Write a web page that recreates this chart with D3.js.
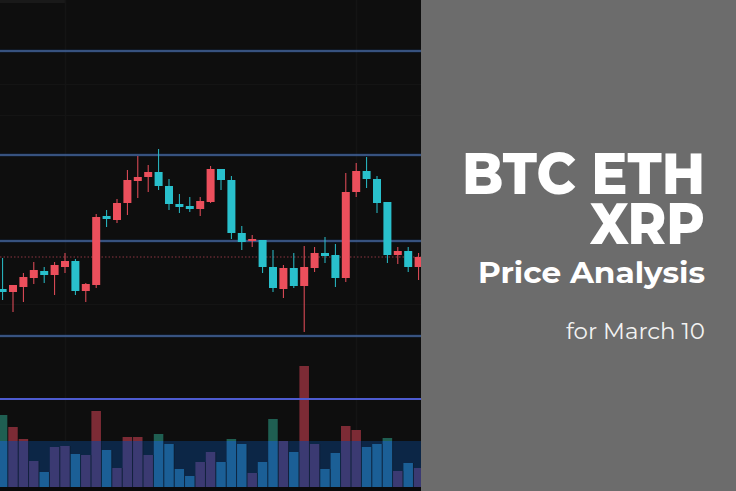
<!DOCTYPE html>
<html>
<head>
<meta charset="utf-8">
<script src="https://cdn.jsdelivr.net/npm/d3@7"></script>
<style>
  html, body { margin: 0; padding: 0; background: #0e0e0e; }
  svg { display: block; }
</style>
</head>
<body>
<svg id="chart" width="736" height="491"></svg>
<script>
// ---- data (price units) ----
const candleIndex = d3.range(41);
const opens  = [311,308,313,322,329,325,333,339,309,315,384,380,397,419,423,428,414,396,394,391,398,431,420,367,359,360,333,311,332,314,332,347,345,322,408,429,421,398,345,349,333];
const highs  = [342,315,327,338,333,338,347,341,317,386,390,401,430,444,435,451,421,406,403,403,434,431,424,374,365,360,350,335,347,354,353,363,356,427,437,443,424,398,353,353,347];
const lows   = [300,288,298,316,317,305,327,305,298,312,373,377,385,402,408,410,390,387,388,384,397,410,361,350,353,327,308,302,312,268,328,337,313,318,403,412,387,337,336,328,320];
const closes = [308,315,323,330,325,335,339,309,316,383,381,397,420,423,428,414,396,393,391,399,431,420,367,358,361,333,312,332,314,333,347,344,322,408,429,421,397,345,349,333,343];
const volumes = [72,60,48,26,15,40,41,33,32,76,37,19,50,50,32,53,43,18,11,25,35,25,48,43,14,25,68,46,35,121,43,18,34,61,57,40,43,49,16,24,19];
const volumeBand = 46;              // level of the shaded volume band
const levelLines = [549,445,359,264]; // horizontal support / resistance levels
const paneDivider = [201];
const gridLevels = [516,485,296,264];
const gridIndices = [6,34];
const lastPrice = closes[closes.length-1];
const titleLines = ["BTC ETH","XRP"];
const subtitle = "Price Analysis";
const dateLine = "for March 10";

// ---- layout ----
const W = 736, H = 491, chartRight = 421;
const svg = d3.select("#chart");

const x = d3.scaleLinear().domain([0, 40]).range([2.6, 418.6]);
const y = d3.scaleLinear().domain([109, 600]).range([491, 0]);
const yv = d3.scaleLinear().domain([0, 487]).range([487, 0]);

const upCol = "#ec4f5c", downCol = "#29c0cc";
const volUp = "#7c2b35", volDown = "#1f5f52";
const volUpBand = "#3b3a72", volDownBand = "#1b5f96";

const defs = svg.append("defs");
defs.append("clipPath").attr("id","plot").append("rect").attr("x",0).attr("y",0).attr("width",chartRight).attr("height",H);
defs.append("clipPath").attr("id","band").append("rect").attr("x",0).attr("y",yv(volumeBand)).attr("width",chartRight).attr("height",yv(0)-yv(volumeBand));

const g = svg.append("g").attr("clip-path","url(#plot)");
g.append("rect").attr("width",chartRight).attr("height",H).attr("fill","#0e0e0e");
g.append("rect").attr("x",0).attr("y",0).attr("width",66).attr("height",3).attr("fill","#191919");

// faint grid
g.selectAll(".gh").data(gridLevels).join("line")
  .attr("x1",0).attr("x2",chartRight).attr("y1",d=>Math.round(y(d))+0.5).attr("y2",d=>Math.round(y(d))+0.5)
  .attr("stroke","#141414").attr("stroke-width",1);
g.selectAll(".gv").data(gridIndices).join("line")
  .attr("y1",0).attr("y2",H).attr("x1",d=>Math.round(x(d))+0.5).attr("x2",d=>Math.round(x(d))+0.5)
  .attr("stroke","#141414").attr("stroke-width",1.5);

const cw = 9.6;
const idx = candleIndex;
// volume bars
g.selectAll(".vol").data(idx).join("rect")
  .attr("x", i => x(i) - cw/2).attr("width", cw)
  .attr("y", i => yv(volumes[i])).attr("height", i => yv(0) - yv(volumes[i]))
  .attr("fill", i => closes[i] >= opens[i] ? volUp : volDown);
// volume band overlay
g.append("rect").attr("x",0).attr("width",chartRight)
  .attr("y",yv(volumeBand)).attr("height",yv(0)-yv(volumeBand)).attr("fill","#0c2646");
g.append("g").attr("clip-path","url(#band)").selectAll("rect").data(idx).join("rect")
  .attr("x", i => x(i) - cw/2).attr("width", cw)
  .attr("y", i => yv(volumes[i])).attr("height", i => yv(0) - yv(volumes[i]))
  .attr("fill", i => closes[i] >= opens[i] ? volUpBand : volDownBand);
// separators between volume bars
g.selectAll(".sep").data(idx).join("line")
  .attr("x1", i => x(i) + 5.2).attr("x2", i => x(i) + 5.2)
  .attr("y1", i => yv(volumes[i])).attr("y2", yv(0))
  .attr("stroke","#0e0e0e").attr("stroke-opacity",0.35).attr("stroke-width",0.8);
g.append("rect").attr("x",0).attr("y",yv(0)).attr("width",chartRight).attr("height",H-yv(0)).attr("fill","#0a0a0a");

// level lines
g.selectAll(".lvlglow").data(levelLines).join("line")
  .attr("x1",0).attr("x2",chartRight).attr("y1",d=>y(d)).attr("y2",d=>y(d))
  .attr("stroke","#1a3a6a").attr("stroke-width",3).attr("stroke-opacity",0.5);
g.selectAll(".lvl").data(levelLines).join("line")
  .attr("x1",0).attr("x2",chartRight).attr("y1",d=>y(d)).attr("y2",d=>y(d))
  .attr("stroke","#5a80c2").attr("stroke-width",1.2);
g.selectAll(".div").data(paneDivider).join("line")
  .attr("x1",0).attr("x2",chartRight).attr("y1",d=>y(d)).attr("y2",d=>y(d))
  .attr("stroke","#4d5bd0").attr("stroke-width",2);

// last price dotted line
g.append("line").attr("x1",0).attr("x2",chartRight).attr("y1",y(lastPrice)).attr("y2",y(lastPrice))
  .attr("stroke","#8a3440").attr("stroke-width",1).attr("stroke-dasharray","1.5,2");

// candles
const c = g.selectAll(".candle").data(idx).join("g");
c.append("line")
  .attr("x1", i => x(i)).attr("x2", i => x(i))
  .attr("y1", i => y(highs[i])).attr("y2", i => y(lows[i]))
  .attr("stroke", i => closes[i] >= opens[i] ? upCol : downCol).attr("stroke-width",1);
c.append("rect")
  .attr("x", i => x(i) - 4).attr("width", 8)
  .attr("y", i => y(Math.max(opens[i], closes[i])))
  .attr("height", i => Math.max(1.5, Math.abs(y(opens[i]) - y(closes[i]))))
  .attr("fill", i => closes[i] >= opens[i] ? upCol : downCol);

// right text panel
svg.append("rect").attr("x",chartRight).attr("y",0).attr("width",W-chartRight).attr("height",H).attr("fill","#6c6c6c");
const tp = svg.append("g").attr("fill","#ffffff").attr("text-anchor","end")
  .style("font-family","Montserrat, 'Open Sans', Inter, sans-serif");
const titleBase = [194, 244], titleW = [243, 115];
const title = tp.append("text").attr("font-size",57).attr("font-weight",800);
titleLines.forEach((t,k) => {
  title.append("tspan").attr("x",705).attr("y",titleBase[k]).text(t)
    .attr("textLength",titleW[k]).attr("lengthAdjust","spacingAndGlyphs");
});
tp.append("text").attr("x",705).attr("y",283).text(subtitle)
  .attr("font-size",29).attr("font-weight",700)
  .attr("textLength",227).attr("lengthAdjust","spacingAndGlyphs");
tp.append("text").attr("x",705).attr("y",339).text(dateLine)
  .attr("font-size",23).attr("font-weight",400).attr("fill","#f2f2f2")
  .attr("textLength",139).attr("lengthAdjust","spacingAndGlyphs");
</script>
</body>
</html>
